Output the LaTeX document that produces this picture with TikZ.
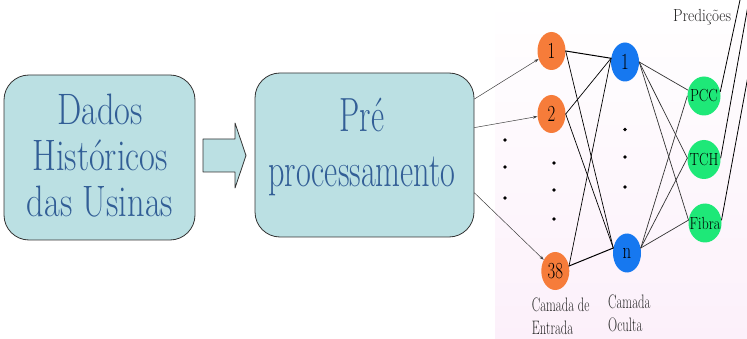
\documentclass[tikz,border=0pt]{standalone}
\usepackage{fontspec}
\usetikzlibrary{shapes.geometric,arrows.meta}

\definecolor{boxfill}{RGB}{187,224,227}
\definecolor{boxtext}{RGB}{50,94,150}
\definecolor{inorange}{RGB}{246,124,58}
\definecolor{hidblue}{RGB}{22,120,240}
\definecolor{outgreen}{RGB}{30,232,120}
\definecolor{bgpink}{RGB}{252,240,250}

\newcommand{\nlab}[2]{\makebox[0pt]{\scalebox{#1}[1]{#2}}}

\begin{document}
\begin{tikzpicture}[line cap=round,line join=round,x=1pt,y=-1pt,
  usina/.style={draw=black!80,line width=0.8pt,fill=boxfill,rounded corners=25pt,inner sep=0pt},
  bigtext/.style={text=boxtext,inner sep=0pt,anchor=base},
  neuron/.style={ellipse,inner sep=0pt,minimum width=28pt,minimum height=38pt},
  entrada/.style={neuron,fill=inorange,font=\fontsize{23}{23}\selectfont},
  oculta/.style={neuron,fill=hidblue,minimum height=39pt,font=\fontsize{23}{23}\selectfont},
  saida/.style={neuron,fill=outgreen,minimum width=33pt,minimum height=39pt,font=\fontsize{17.5}{17.5}\selectfont},
  rotulo/.style={inner sep=0pt,anchor=base west,text=black!85,font=\fontsize{19.5}{23}\selectfont},
  >={Stealth[length=4.5pt,width=3pt]}]
\useasboundingbox (0,0) rectangle (747,339);
\shade[top color=white,bottom color=bgpink] (495,0) rectangle (747,339);

% blocos da esquerda
\node[usina,minimum width=191pt,minimum height=165pt] (dados) at (99.5,157.5) {};
\node[usina,minimum width=219pt,minimum height=164pt] (pre) at (364.5,155) {};
\node[bigtext,font=\fontsize{44}{46}\selectfont] (dadostxt) at (100,125)
  {\scalebox{0.78}[1]{\begin{tabular}[t]{@{}c@{}}Dados\\Históricos\\das Usinas\end{tabular}}};
\node[bigtext,font=\fontsize{48}{55}\selectfont] (pretxt) at (362,131.7)
  {\scalebox{0.67}[1]{\begin{tabular}[t]{@{}c@{}}Pré\\processamento\end{tabular}}};
\draw [line width=0.8pt,draw=black!80,fill=boxfill] (203,139) -- (235,139) -- (235,123)
  -- (246,155.5) -- (235,188) -- (235,172) -- (203,172) -- cycle;

% rede neural
\node[entrada] (e1) at (551.5,51) {\nlab{0.73}{1}};
\node[entrada] (e2) at (551.5,114) {\nlab{0.73}{2}};
\node[entrada] (e38) at (555.3,271) {\nlab{0.73}{38}};
\node[oculta] (o1) at (625,62) {\nlab{0.73}{1}};
\node[oculta] (on) at (627,253) {\nlab{0.73}{n}};
\node[saida] (pcc) at (704,96) {\nlab{0.81}{PCC}};
\node[saida] (tch) at (704,159.5) {\nlab{0.81}{TCH}};
\node[saida] (fibra) at (705,223) {\nlab{0.81}{Fibra}};

\fill (505,140) circle (1.9pt);
\fill (505,167) circle (1.9pt);
\fill (505,198) circle (1.9pt);
\fill (554,163) circle (1.9pt);
\fill (554,190) circle (1.9pt);
\fill (554,219) circle (1.9pt);
\fill (625,129.5) circle (1.9pt);
\fill (625,157) circle (1.9pt);
\fill (625,187) circle (1.9pt);

\draw [->,line width=0.5pt,draw=black!75] (pre.27) -- (e1);
\draw [->,line width=0.5pt,draw=black!75] (pre.14) -- (e2);
\draw [->,line width=0.5pt,draw=black!75] (pre.-19) -- (e38);

\draw [line width=1pt] (e1.east) -- (o1.165);
\draw [line width=0.7pt] (e1.east) -- (on.160);
\draw [line width=0.7pt] (e2.east) -- (o1.165);
\draw [line width=0.7pt] (e2.east) -- (on.160);
\draw [line width=0.7pt] (e38.20) -- (o1.165);
\draw [line width=1pt] (e38.20) -- (on.160);

\draw [line width=0.7pt,draw=black!80] (o1.east) -- (pcc.160);
\draw [line width=0.7pt,draw=black!80] (o1.east) -- (tch.175);
\draw [line width=0.7pt,draw=black!80] (o1.east) -- (fibra.170);
\draw [line width=0.7pt,draw=black!80] (on.20) -- (pcc.west);
\draw [line width=0.7pt,draw=black!80] (on.20) -- (tch.175);
\draw [line width=0.7pt,draw=black!80] (on.20) -- (fibra.170);

\coordinate (s1) at (740,0);
\coordinate (s2) at (749,0);
\coordinate (s3) at (762,0);
\draw [line width=0.8pt] (pcc.15) -- (s1);
\draw [line width=0.8pt] (tch.5) -- (s2);
\draw [line width=0.8pt] (fibra.10) -- (s3);

\node[rotulo,font=\fontsize{17.5}{17.5}\selectfont] (pred) at (673,21.7) {\scalebox{0.87}[1]{Predições}};
\node[rotulo] (camin) at (531.7,311.7)
  {\scalebox{0.65}[1]{\begin{tabular}[t]{@{}l@{}}Camada de\\Entrada\end{tabular}}};
\node[rotulo] (camoc) at (608,308)
  {\scalebox{0.65}[1]{\begin{tabular}[t]{@{}l@{}}Camada\\Oculta\end{tabular}}};
\end{tikzpicture}
\end{document}
